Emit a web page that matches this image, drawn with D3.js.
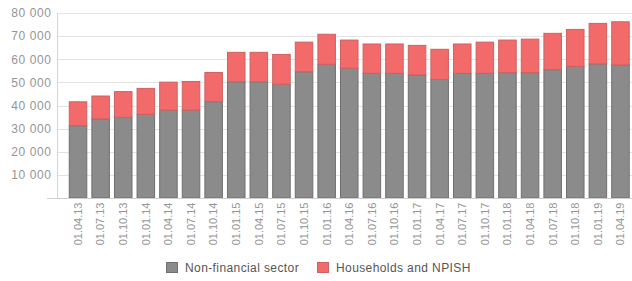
<!DOCTYPE html>
<html><head><meta charset="utf-8">
<script src="https://cdn.jsdelivr.net/npm/d3@7"></script>
<style>body{margin:0;background:#fff;} svg{display:block;font-family:"Liberation Sans",Arial,sans-serif;}</style>
</head><body>
<script>
const categories = ["01.04.13","01.07.13","01.10.13","01.01.14","01.04.14","01.07.14","01.10.14","01.01.15","01.04.15","01.07.15","01.10.15","01.01.16","01.04.16","01.07.16","01.10.16","01.01.17","01.04.17","01.07.17","01.10.17","01.01.18","01.04.18","01.07.18","01.10.18","01.01.19","01.04.19"];
const nonFinancial = [31300,34200,34900,36200,38000,38000,41700,50300,50300,49200,54600,57800,56100,53900,53900,53200,51300,53900,53900,54200,54200,55500,56900,58000,57500];
const households = [10300,9900,11100,11200,12100,12400,12600,12700,12700,12900,12800,13000,12200,12700,12700,12800,13000,12700,13500,14100,14500,15700,16000,17500,18700];
const yTicks = [10000,20000,30000,40000,50000,60000,70000,80000];
const seriesNames = ["Non-financial sector","Households and NPISH"];
const colors = ["#8b8b8b","#f36a6a"];
const strokes = ["#707070","#cc6262"];

const W=632,H=281;
const svg=d3.select("body").append("svg").attr("width",W).attr("height",H);
const x=d3.scaleBand().domain(categories).range([66.5,632]).paddingInner(0.18).paddingOuter(0.1);
const y=d3.scaleLinear().domain([0,80000]).range([198,13]);

// gridlines
svg.append("g").selectAll("line").data(yTicks).join("line")
  .attr("x1",57).attr("x2",632).attr("y1",d=>Math.round(y(d))+0.5).attr("y2",d=>Math.round(y(d))+0.5)
  .attr("stroke","#e3e3e3").attr("stroke-width",1);

// y axis
const fmt=d=>d3.format(",")(d).replace(/,/g," ");
const yAxis=svg.append("g").attr("transform","translate(57.5,0)")
  .call(d3.axisLeft(y).tickValues(yTicks).tickFormat(fmt).tickSize(0).tickPadding(6));
yAxis.select(".domain").attr("stroke","#d6d6d6").attr("d","M0,13V198");
yAxis.selectAll("text").attr("fill","#959595").style("font-size","12px").style("letter-spacing","0.6px");

// stacked data
const rows=categories.map((c,i)=>({cat:c,a:nonFinancial[i],b:households[i]}));
const stack=d3.stack().keys(["a","b"])(rows);
svg.append("g").selectAll("g").data(stack).join("g")
  .attr("fill",(d,i)=>colors[i]).attr("stroke",(d,i)=>strokes[i])
  .selectAll("rect").data(d=>d).join("rect")
  .attr("x",d=>x(d.data.cat)+0.5).attr("width",x.bandwidth()-1)
  .attr("y",d=>y(d[1])).attr("height",d=>y(d[0])-y(d[1]))
  .attr("stroke-width",1);

// baseline + x axis
const xAxis=svg.append("g").attr("transform","translate(0,198.5)")
  .call(d3.axisBottom(x).tickSize(0).tickPadding(4));
xAxis.select(".domain").attr("stroke","#cfcfcf").attr("d","M47,0H632");
xAxis.selectAll("text").attr("fill","#959595").style("font-size","11px")
  .attr("transform","rotate(-90)").attr("text-anchor","end").attr("dx","-4px").attr("x",0).attr("y",0)
  .attr("dy","0.35em");

// legend
const leg=svg.append("g");
const legX=[166,317];
seriesNames.forEach((n,i)=>{
  leg.append("rect").attr("x",legX[i]+0.5).attr("y",262.5).attr("width",11).attr("height",10)
    .attr("fill",colors[i]).attr("stroke",strokes[i]);
  leg.append("text").attr("x",legX[i]+19).attr("y",267.5).attr("dy","0.35em")
    .attr("fill","#555").style("font-size","12px").style("letter-spacing","0.4px").text(n);
});
</script>
</body></html>
